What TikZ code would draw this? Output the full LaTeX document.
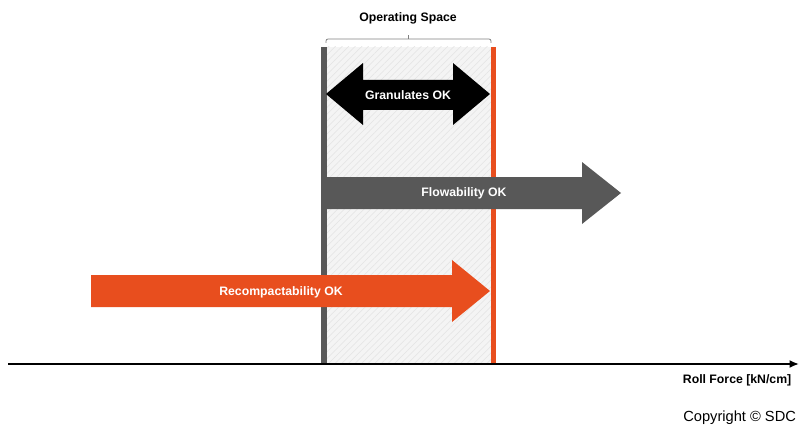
\documentclass[tikz,border=0pt]{standalone}
\usepackage{fontspec}
\setmainfont{Liberation Sans}
\usetikzlibrary{patterns.meta,arrows.meta}
\definecolor{sdcorange}{RGB}{232,78,30}
\definecolor{sdcgray}{RGB}{88,88,88}
\definecolor{zonefill}{RGB}{244,244,244}
\tikzset{
  lbl/.style={font=\bfseries\fontsize{9.2}{11}\selectfont},
  arrowlbl/.style={lbl, text=white}
}
\begin{document}
\begin{tikzpicture}[x=0.75pt,y=-0.75pt]
\useasboundingbox (0,0) rectangle (800,428);

% operating space
\fill[zonefill] (324,47) rectangle (493,363);
\fill[pattern={Lines[angle=45,distance=3.5pt,line width=0.4pt]}, pattern color=gray!22] (324,47) rectangle (493,363);
\fill[sdcgray] (321,47) rectangle (327,364);
\fill[sdcorange] (491,47) rectangle (496,364);

\coordinate (bl) at (326,43);
\coordinate (br) at (491,43);
\coordinate (bmid) at (408,39);
\draw[gray, line width=0.6pt, rounded corners=1.5pt] (bl) |- (bmid) -| (br);
\draw[gray, line width=0.6pt] (bmid) -- ++(0,-4);
\node[lbl] (ops) at (408,18) {Operating Space};

% arrows
\fill[black] (326,94) -- (363,63) -- (363,80) -- (453,80) -- (453,63) -- (490,94)
  -- (453,125) -- (453,110) -- (363,110) -- (363,125) -- cycle;
\node[arrowlbl] (gran) at (408,95) {Granulates OK};

\fill[sdcgray] (323,177) -- (582,177) -- (582,162) -- (621,193) -- (582,224)
  -- (582,209) -- (323,209) -- cycle;
\node[arrowlbl] (flow) at (464,193) {Flowability OK};

\fill[sdcorange] (91,275) -- (452,275) -- (452,260) -- (490,291) -- (452,322)
  -- (452,307) -- (91,307) -- cycle;
\node[arrowlbl] (recomp) at (281,292) {Recompactability OK};

% axis
\coordinate (origin) at (8,364);
\coordinate (axisend) at (799,364);
\draw[line width=2pt, -{Latex[length=7pt,width=6pt]}] (origin) -- (axisend);
\node[lbl, anchor=east] (xlabel) at (796,380) {Roll Force [kN/cm]};

\node[anchor=west, inner sep=0pt, font=\fontsize{11}{13}\selectfont] (copy) at (683,418) {Copyright © SDC};
\end{tikzpicture}
\end{document}
